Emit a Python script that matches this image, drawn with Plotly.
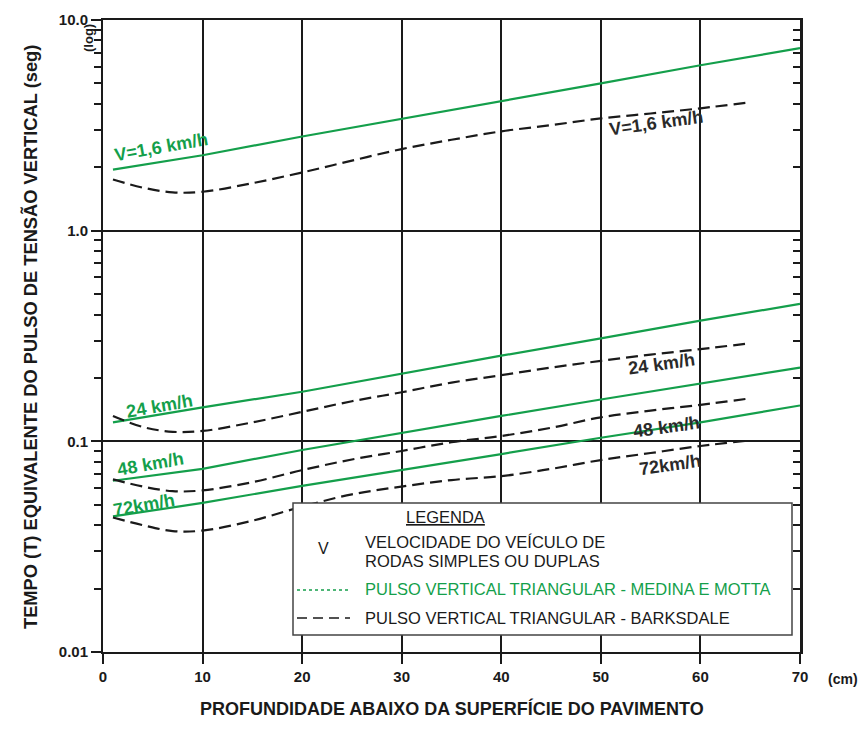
import plotly.graph_objects as go

# ---------------- data ----------------
x_green = [1, 10, 20, 30, 40, 50, 60, 70]
green_v1_6 = [1.95, 2.28, 2.80, 3.40, 4.10, 5.00, 6.10, 7.35]
green_v24 = [0.123, 0.145, 0.172, 0.210, 0.255, 0.308, 0.374, 0.449]
green_v48 = [0.065, 0.074, 0.091, 0.110, 0.132, 0.158, 0.188, 0.224]
green_v72 = [0.044, 0.051, 0.0615, 0.073, 0.087, 0.104, 0.123, 0.148]

x_black = [1, 4, 7, 10, 15, 20, 25, 30, 35, 40, 45, 50, 55, 60, 65]
black_v1_6 = [1.75, 1.60, 1.52, 1.53, 1.68, 1.89, 2.15, 2.44, 2.70, 2.96, 3.17, 3.41, 3.60, 3.81, 4.07]
black_v24 = [0.132, 0.117, 0.111, 0.112, 0.123, 0.138, 0.155, 0.171, 0.190, 0.206, 0.224, 0.241, 0.258, 0.274, 0.292]
black_v48 = [0.066, 0.061, 0.058, 0.0585, 0.064, 0.073, 0.082, 0.090, 0.099, 0.106, 0.116, 0.130, 0.140, 0.149, 0.160]
black_v72 = [0.0435, 0.040, 0.0375, 0.0377, 0.042, 0.049, 0.056, 0.061, 0.0655, 0.0684, 0.074, 0.0815, 0.088, 0.095, 0.101]

x_ticks = [0, 10, 20, 30, 40, 50, 60, 70]
y_tickvals = [0.01, 0.1, 1, 10]
y_ticktext = ["0.01", "0.1", "1.0", "10.0"]

# curve labels: text, x (cm), log10(y)
labels_green = ["V=1,6 km/h", "24 km/h", "48 km/h", "72km/h"]
labels_black = ["V=1,6 km/h", "24 km/h", "48 km/h", "72km/h"]
label_pos_green = [(5.9, 0.395), (5.7, -0.833), (4.8, -1.107), (4.1, -1.30)]
label_pos_black = [(55.6, 0.51), (56.1, -0.633), (56.6, -0.933), (56.9, -1.11)]

# ---------------- style ----------------
GREEN = "#149f4b"
BLACK = "#1a1a1a"
FONT = "Liberation Sans, Arial, sans-serif"

fig = go.Figure()

for ys in [green_v1_6, green_v24, green_v48, green_v72]:
    fig.add_trace(go.Scatter(x=x_green, y=ys, mode="lines",
                             line=dict(color=GREEN, width=2.2),
                             showlegend=False, hoverinfo="x+y"))
for ys in [black_v1_6, black_v24, black_v48, black_v72]:
    fig.add_trace(go.Scatter(x=x_black, y=ys, mode="lines",
                             line=dict(color=BLACK, width=2.2, dash="12px,6px", shape="spline", smoothing=1.0),
                             showlegend=False, hoverinfo="x+y"))
# invisible trace to anchor the right-side mirrored log axis
fig.add_trace(go.Scatter(x=x_green, y=green_v1_6, yaxis="y2", mode="lines",
                         line=dict(color="rgba(0,0,0,0)", width=0),
                         showlegend=False, hoverinfo="skip"))

fig.update_layout(
    width=866, height=743,
    margin=dict(l=103, r=66, t=20, b=91),
    paper_bgcolor="white", plot_bgcolor="white",
    font=dict(family=FONT, size=14, color=BLACK),
    xaxis=dict(
        range=[0, 70], tickvals=x_ticks,
        ticktext=[f"<b>{v}</b>" for v in x_ticks],
        ticks="outside", ticklen=10, tickwidth=2, tickcolor=BLACK,
        showline=True, linecolor=BLACK, linewidth=2, mirror=True,
        showgrid=True, gridcolor=BLACK, gridwidth=2,
        zeroline=False, tickfont=dict(size=15, family=FONT),
    ),
    yaxis=dict(
        type="log", range=[-2, 1],
        tickvals=y_tickvals, ticktext=[f"<b>{t}</b>" for t in y_ticktext],
        ticks="outside", ticklen=10, tickwidth=2, tickcolor=BLACK,
        showline=True, linecolor=BLACK, linewidth=2,
        showgrid=True, gridcolor=BLACK, gridwidth=2,
        minor=dict(dtick="D1", ticks="outside", ticklen=7, tickwidth=2,
                   tickcolor=BLACK, showgrid=False),
        zeroline=False, tickfont=dict(size=15, family=FONT),
    ),
    yaxis2=dict(
        type="log", range=[-2, 1], overlaying="y", side="right",
        tickvals=y_tickvals, showticklabels=False,
        ticks="inside", ticklen=8, tickwidth=2, tickcolor=BLACK,
        showline=True, linecolor=BLACK, linewidth=2.5,
        showgrid=False, zeroline=False,
        minor=dict(dtick="D1", ticks="inside", ticklen=7, tickwidth=2,
                   tickcolor=BLACK, showgrid=False),
    ),
)


def px_x(p):
    return (p - 103) / 697


def px_y(p):
    return (652 - p) / 632


def note(x, y, text, size, color=BLACK, angle=0, xanchor="center", xref="paper", yref="paper"):
    return dict(x=x, y=y, xref=xref, yref=yref, text=text, showarrow=False,
                xanchor=xanchor, yanchor="middle", textangle=angle,
                font=dict(size=size, family=FONT, color=color))


ann = []
for t, (x, ly) in zip(labels_green, label_pos_green):
    ann.append(note(x, ly, f"<b>{t}</b>", 18, GREEN, -10, xref="x", yref="y"))
for t, (x, ly) in zip(labels_black, label_pos_black):
    ann.append(note(x, ly, f"<b>{t}</b>", 18, "#2a2a2a", -8, xref="x", yref="y"))

# axis titles and units
ann.append(note(px_x(30), px_y(337), "<b>TEMPO (T) EQUIVALENTE DO PULSO DE TENSÃO VERTICAL (seg)</b>", 18.3, angle=-90))
ann.append(note(0.5, px_y(708), "<b>PROFUNDIDADE ABAIXO DA SUPERFÍCIE DO PAVIMENTO</b>", 18))
ann.append(note(px_x(843), px_y(679), "<b>(cm)</b>", 14))
ann.append(note(px_x(88), px_y(38), "<b>(log)</b>", 13, angle=-90))

# legend box contents
ann.append(note(px_x(445), px_y(517), "<u>LEGENDA</u>", 16.5))
ann.append(note(px_x(323), px_y(548), "V", 16))
ann.append(note(px_x(363), px_y(542), "VELOCIDADE DO VEÍCULO DE", 16.5, xanchor="left"))
ann.append(note(px_x(363), px_y(561), "RODAS SIMPLES OU DUPLAS", 16.5, xanchor="left"))
ann.append(note(px_x(363), px_y(589), "PULSO VERTICAL TRIANGULAR - MEDINA E MOTTA", 16.5, GREEN, xanchor="left"))
ann.append(note(px_x(363), px_y(618), "PULSO VERTICAL TRIANGULAR - BARKSDALE", 16.5, xanchor="left"))
fig.update_layout(annotations=ann)

shapes = [
    dict(type="rect", xref="paper", yref="paper", x0=px_x(293), x1=px_x(792),
         y0=px_y(635), y1=px_y(503), fillcolor="white",
         line=dict(color="#444", width=1.5), layer="above"),
    dict(type="line", xref="paper", yref="paper", x0=px_x(297), x1=px_x(350),
         y0=px_y(590), y1=px_y(590), line=dict(color=GREEN, width=1.5, dash="dot"),
         layer="above"),
    dict(type="line", xref="paper", yref="paper", x0=px_x(297), x1=px_x(350),
         y0=px_y(618), y1=px_y(618), line=dict(color=BLACK, width=1.5, dash="10px,6px"),
         layer="above"),
]
fig.update_layout(shapes=shapes)

fig.write_html("out.html")
